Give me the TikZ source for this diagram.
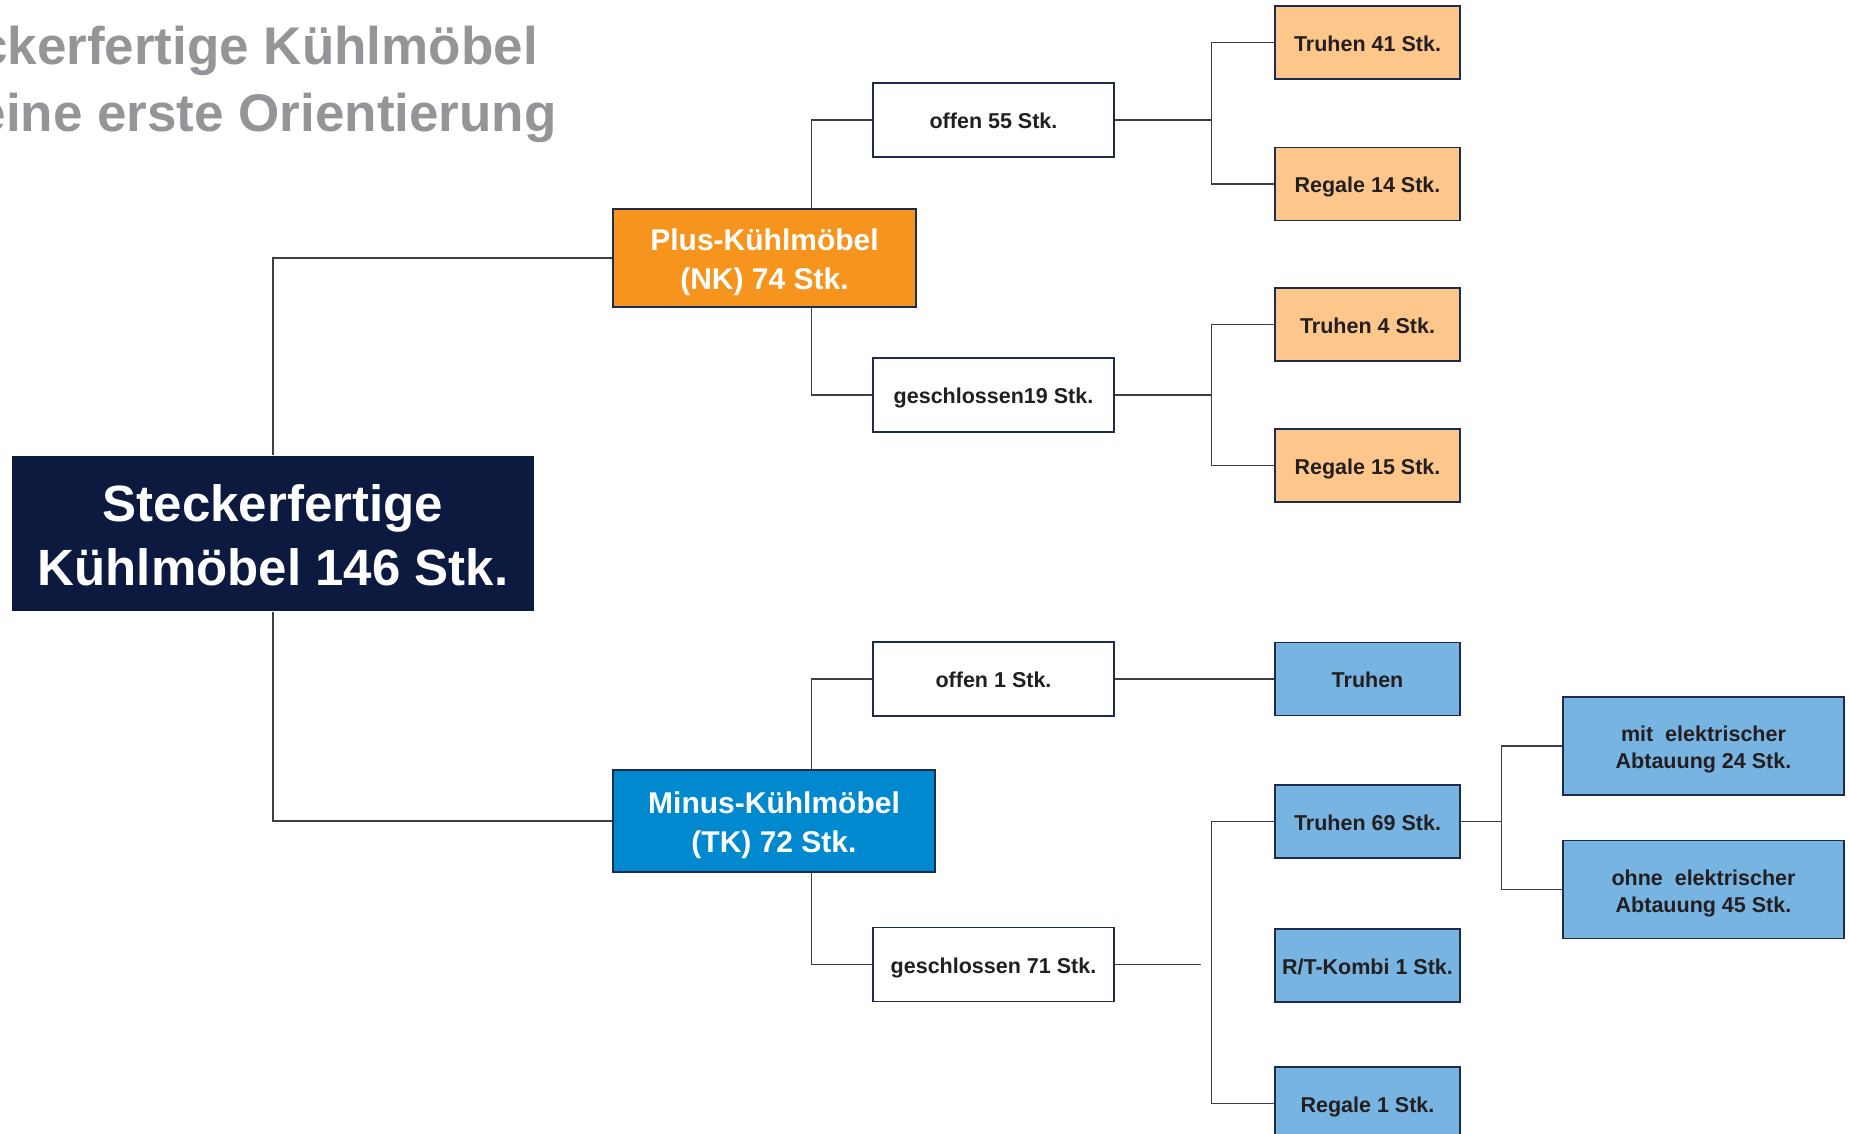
\documentclass[tikz,border=0pt]{standalone}
\usepackage{fontspec}
\setmainfont{Liberation Sans}
\usetikzlibrary{calc}
\definecolor{navy}{HTML}{0C1A3F}
\definecolor{bordc}{HTML}{1E2B50}
\definecolor{orng}{HTML}{F7941D}
\definecolor{peach}{HTML}{FDC78B}
\definecolor{tkblue}{HTML}{0089CF}
\definecolor{lblue}{HTML}{78B4E2}
\definecolor{titlegray}{HTML}{939598}
\definecolor{txt}{HTML}{231F20}
\definecolor{linec}{HTML}{3F3F3F}
\begin{document}
\begin{tikzpicture}[x=1pt,y=-1pt,
  base/.style={rectangle, inner sep=0pt, align=center, text=txt, draw=bordc, line width=1.4pt},
  rootbox/.style={base, fill=navy, draw=none, text=white, minimum width=522pt, minimum height=155pt, text height=104pt, text depth=0pt, font=\bfseries\fontsize{51}{64}\selectfont},
  midbox/.style={base, text=white, text height=62pt, text depth=0pt, font=\bfseries\fontsize{30}{39}\selectfont},
  whitebox/.style={base, fill=white, minimum width=241pt, minimum height=74pt, text height=17.4pt, text depth=0pt, font=\bfseries\fontsize{21.5}{27}\selectfont},
  leafbox/.style={base, minimum width=185pt, minimum height=73pt, text height=17.4pt, text depth=0pt, font=\bfseries\fontsize{21.5}{27}\selectfont},
  widebox/.style={base, fill=lblue, minimum width=281pt, minimum height=98pt, text height=45pt, text depth=0pt, font=\bfseries\fontsize{21.5}{27}\selectfont},
  conn/.style={draw=linec, line width=1.5pt},
  titletext/.style={anchor=base east, inner sep=0pt, text=titlegray, font=\bfseries\fontsize{53}{64}\selectfont}
]
\useasboundingbox (0,0) rectangle (1849,1134);
\fill[white] (0,0) rectangle (1849,1134);

% title
\node[titletext] (t1) at (538,65) {ckerfertige Kühlmöbel};
\node[titletext] (t2) at (557,132) {eine erste Orientierung};

% main nodes
\node[rootbox] (root) at (273,533.5) {Steckerfertige\\Kühlmöbel 146 Stk.};
\node[midbox, fill=orng, minimum width=303pt, minimum height=98pt] (plus) at (764.5,258) {Plus-Kühlmöbel\\(NK) 74 Stk.};
\node[midbox, fill=tkblue, minimum width=322pt, minimum height=102pt] (minus) at (774,821) {Minus-Kühlmöbel\\(TK) 72 Stk.};

\node[whitebox] (of55) at (993.5,120) {offen 55 Stk.};
\node[whitebox] (ge19) at (993.5,395) {geschlossen19 Stk.};
\node[whitebox] (of1) at (993.5,679) {offen 1 Stk.};
\node[whitebox] (ge71) at (993.5,964.5) {geschlossen 71 Stk.};

\node[leafbox, fill=peach] (tr41) at (1367.5,42.5) {Truhen 41 Stk.};
\node[leafbox, fill=peach] (re14) at (1367.5,184) {Regale 14 Stk.};
\node[leafbox, fill=peach] (tr4) at (1367.5,324.5) {Truhen 4 Stk.};
\node[leafbox, fill=peach] (re15) at (1367.5,465.5) {Regale 15 Stk.};

\node[leafbox, fill=lblue] (tr) at (1367.5,679) {Truhen};
\node[leafbox, fill=lblue] (tr69) at (1367.5,821.5) {Truhen 69 Stk.};
\node[leafbox, fill=lblue] (rtk) at (1367.5,965.5) {R/T-Kombi 1 Stk.};
\node[leafbox, fill=lblue] (re1) at (1367.5,1103.5) {Regale 1 Stk.};

\node[widebox] (mit) at (1703.5,746) {mit\ \ elektrischer\\Abtauung 24 Stk.};
\node[widebox] (ohne) at (1703.5,889.5) {ohne\ \ elektrischer\\Abtauung 45 Stk.};

% connectors
\draw[conn] (root.north) |- (plus.west);
\draw[conn] (root.south) |- (minus.west);

\draw[conn] (of55.west) -| ([xshift=-61pt]of55.west |- plus.north);
\draw[conn] (ge19.west) -| ([xshift=-61pt]ge19.west |- plus.south);
\draw[conn] (of1.west) -| ([xshift=-61pt]of1.west |- minus.north);
\draw[conn] (ge71.west) -| ([xshift=-61pt]ge71.west |- minus.south);

\coordinate (b1) at ([xshift=-63pt]tr41.west |- of55.east);
\draw[conn] (of55.east) -- (b1);
\draw[conn] (tr41.west) -| (b1) |- (re14.west);

\coordinate (b2) at ([xshift=-63pt]tr4.west |- ge19.east);
\draw[conn] (ge19.east) -- (b2);
\draw[conn] (tr4.west) -| (b2) |- (re15.west);

\draw[conn] (of1.east) -- (tr.west);

\coordinate (g71end) at ([xshift=86pt]ge71.east);
\draw[conn] (ge71.east) -- (g71end);
\draw[conn] (tr69.west) -| ([xshift=-63pt]tr69.west |- re1.west) -- (re1.west);

\coordinate (b5) at ([xshift=41pt]tr69.east);
\draw[conn] (tr69.east) -- (b5);
\draw[conn] (mit.west) -| (b5) |- (ohne.west);
\end{tikzpicture}
\end{document}
